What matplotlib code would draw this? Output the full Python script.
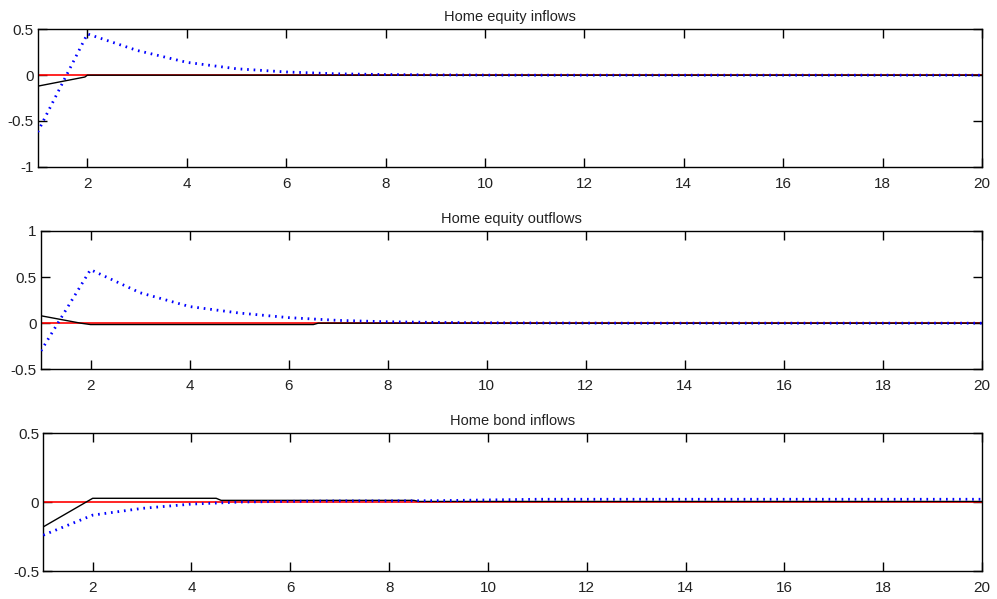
import numpy as np
import matplotlib
matplotlib.use('Agg')
import matplotlib.pyplot as plt
from matplotlib.ticker import FuncFormatter

plt.rcParams['font.family'] = ['Liberation Sans', 'DejaVu Sans']

# horizon (periods)
periods = np.arange(1, 21)

# blue dotted responses at each period
eq_in_blue = [-0.62, 0.45, 0.27, 0.14, 0.07, 0.035, 0.015, 0.007, 0.003, 0.001,
              0.0, 0.0, 0.0, 0.0, 0.0, 0.0, 0.0, 0.0, 0.0, 0.0]
eq_out_blue = [-0.30, 0.58, 0.33, 0.18, 0.11, 0.06, 0.03, 0.015, 0.008, 0.004,
               0.002, 0.001, 0.0, 0.0, 0.0, 0.0, 0.0, 0.0, 0.0, 0.0]
bond_in_blue = [-0.24, -0.095, -0.046, -0.015, 0.0, 0.005, 0.008, 0.008, 0.01, 0.015,
                0.02, 0.02, 0.02, 0.02, 0.02, 0.02, 0.02, 0.02, 0.02, 0.02]

# black solid responses (own horizon points)
eq_in_black_x = [1, 1.95, 2.0, 20]
eq_in_black = [-0.12, -0.02, 0.0, 0.0]
eq_out_black_x = [1, 1.8, 2.0, 6.5, 6.6, 20]
eq_out_black = [0.08, 0.0, -0.015, -0.015, 0.0, 0.0]
bond_in_black_x = [1, 2, 4.5, 4.6, 8.5, 8.6, 20]
bond_in_black = [-0.18, 0.027, 0.027, 0.012, 0.012, 0.004, 0.004]

titles = ['Home equity inflows', 'Home equity outflows', 'Home bond inflows']
ylims = [(-1, 0.5), (-0.5, 1), (-0.5, 0.5)]
yticks = [[-1, -0.5, 0, 0.5], [-0.5, 0, 0.5, 1], [-0.5, 0, 0.5]]
xticks = list(range(2, 21, 2))

panels = [
    (eq_in_blue, eq_in_black_x, eq_in_black),
    (eq_out_blue, eq_out_black_x, eq_out_black),
    (bond_in_blue, bond_in_black_x, bond_in_black),
]

# axes boxes in figure fractions (left, bottom, width, height)
boxes = [
    (0.0378, 0.7215, 0.9472, 0.2295),
    (0.0411, 0.3835, 0.9439, 0.2310),
    (0.0434, 0.0467, 0.9416, 0.2304),
]

fmt = FuncFormatter(lambda v, p: ('%g' % v))

fig = plt.figure(figsize=(9.97, 5.99), dpi=100)
for i, (blue, bx, by) in enumerate(panels):
    ax = fig.add_axes(boxes[i])
    ax.plot(periods, np.zeros(len(periods)), color='red', lw=1.2, zorder=2)
    ax.plot(bx, by, color='black', lw=1.0, zorder=3)
    ax.plot(periods, blue, color='blue', lw=2.0, linestyle=(0, (0.6, 1.75)),
            solid_capstyle='butt', dash_capstyle='butt', zorder=4)
    ax.set_xlim(1, 20)
    ax.set_ylim(*ylims[i])
    ax.set_xticks(xticks)
    ax.set_yticks(yticks[i])
    ax.yaxis.set_major_formatter(fmt)
    ax.tick_params(direction='in', length=6.5, width=1, top=True, right=True,
                   labelsize=11, colors='black', labelcolor='#222222')
    ax.tick_params(axis='x', pad=7)
    ax.tick_params(axis='y', pad=3)
    for s in ax.spines.values():
        s.set_linewidth(1.0)
    ax.set_title(titles[i], fontsize=10.5, pad=6, color='#222222')

fig.savefig('out.png', dpi=100)
